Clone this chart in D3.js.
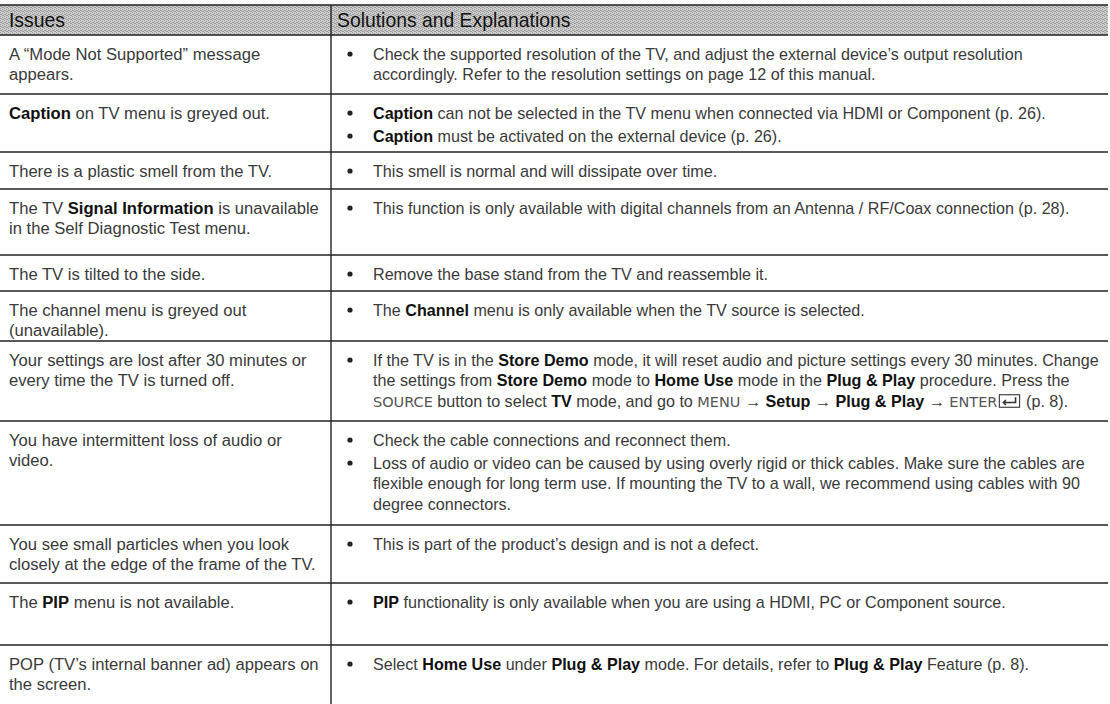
<!DOCTYPE html>
<html><head><meta charset="utf-8">
<script src="https://cdn.jsdelivr.net/npm/d3@7"></script>
<style>body{margin:0;background:#fff}svg{display:block}text{white-space:pre}</style>
</head><body><svg id="c" width="1110" height="704"></svg>
<script>
// ---------- data ----------
const headers = ["Issues", "Solutions and Explanations"];

const issues = [
  ["A \u201cMode Not Supported\u201d message", "appears."],
  ["**Caption** on TV menu is greyed out."],
  ["There is a plastic smell from the TV."],
  ["The TV **Signal Information** is unavailable", "in the Self Diagnostic Test menu."],
  ["The TV is tilted to the side."],
  ["The channel menu is greyed out", "(unavailable)."],
  ["Your settings are lost after 30 minutes or", "every time the TV is turned off."],
  ["You have intermittent loss of audio or", "video."],
  ["You see small particles when you look", "closely at the edge of the frame of the TV."],
  ["The **PIP** menu is not available."],
  ["POP (TV\u2019s internal banner ad) appears on", "the screen."]
];

const solutions = [
  [["Check the supported resolution of the TV, and adjust the external device\u2019s output resolution",
    "accordingly. Refer to the resolution settings on page 12 of this manual."]],
  [["**Caption** can not be selected in the TV menu when connected via HDMI or Component (p. 26)."],
   ["**Caption** must be activated on the external device (p. 26)."]],
  [["This smell is normal and will dissipate over time."]],
  [["This function is only available with digital channels from an Antenna / RF/Coax connection (p. 28)."]],
  [["Remove the base stand from the TV and reassemble it."]],
  [["The **Channel** menu is only available when the TV source is selected."]],
  [["If the TV is in the **Store Demo** mode, it will reset audio and picture settings every 30 minutes. Change",
    "the settings from **Store Demo** mode to **Home Use** mode in the **Plug & Play** procedure. Press the",
    "{SOURCE} button to select **TV** mode, and go to {MENU} \u2192 **Setup** \u2192 **Plug & Play** \u2192 {ENTER}@ (p. 8)."]],
  [["Check the cable connections and reconnect them."],
   ["Loss of audio or video can be caused by using overly rigid or thick cables. Make sure the cables are",
    "flexible enough for long term use. If mounting the TV to a wall, we recommend using cables with 90",
    "degree connectors."]],
  [["This is part of the product\u2019s design and is not a defect."]],
  [["**PIP** functionality is only available when you are using a HDMI, PC or Component source."]],
  [["Select **Home Use** under **Plug & Play** mode. For details, refer to **Plug & Play** Feature (p. 8)."]]
];

// ---------- layout ----------
const W = 1110, H = 704;
const rowEdges = [5, 35, 94, 152, 189, 255, 291, 341, 421, 525, 583, 645, 712];
const X = {issue: 9, div: 331, bullet: 350, sol: 373, right: 1108, head2: 337};
const FONT = "'Liberation Sans', Arial, Helvetica, sans-serif";
const KEYFONT = "'DejaVu Sans', sans-serif";
const firstOff = 19, lineH = 20.5, itemGap = 2.5;
const FIT_WIDTH = 712;   // width of the longest plain explanation line

const svg = d3.select("#c");

// fit font size on the longest plain line of the explanations
const probe = svg.append("text").attr("font-family", FONT).attr("font-weight", 400)
  .attr("font-size", 100).text(solutions[7][1][0]);
const fs = 100 * FIT_WIDTH / probe.node().getComputedTextLength();
probe.remove();
const fsIssue = fs * 1.03;

// header background (dithered grey)
const defs = svg.append("defs");
const pat = defs.append("pattern").attr("id", "dither").attr("patternUnits", "userSpaceOnUse")
  .attr("width", 4).attr("height", 4);
pat.append("rect").attr("width", 4).attr("height", 4).attr("fill", "#cdcdcd");
[[0,0],[2,1],[1,2],[3,3],[2,3],[0,2]].forEach(([a,b]) =>
  pat.append("rect").attr("x", a).attr("y", b).attr("width", 1).attr("height", 1).attr("fill", "#9c9c9c"));

svg.append("rect").attr("x", 0).attr("y", rowEdges[0]).attr("width", X.right)
  .attr("height", rowEdges[1] - rowEdges[0]).attr("fill", "url(#dither)");

// header texts
svg.selectAll("text.head").data(headers).join("text").attr("class", "head")
  .attr("x", (d, i) => i ? X.head2 : X.issue)
  .attr("y", (rowEdges[0] + rowEdges[1]) / 2 + 6.5)
  .attr("font-family", FONT).attr("font-weight", 400).attr("font-size", fs * 1.2)
  .attr("fill", "#111").text(d => d);

// rules
const hl = svg.append("g").attr("stroke", "#222").attr("stroke-width", 1.4);
hl.selectAll("line").data(rowEdges.slice(0, -1)).join("line")
  .attr("x1", 0).attr("x2", X.right).attr("y1", d => d).attr("y2", d => d);
svg.append("line").attr("x1", X.div).attr("x2", X.div).attr("y1", rowEdges[0]).attr("y2", H)
  .attr("stroke", "#222").attr("stroke-width", 1.4);

// rich text
function parse(s) {
  return s.split(/(\*\*.+?\*\*|\{.+?\}|@)/).filter(t => t).map(t => {
    if (t.startsWith("**")) return {t: t.slice(2, -2), k: "b"};
    if (t.startsWith("{")) return {t: t.slice(1, -1), k: "key"};
    if (t === "@") return {t: "\u2003\u2002", k: "icon"};
    return {t, k: "n"};
  });
}
function drawLine(g, str, x, yc, size) {
  const segs = parse(str);
  const t = g.append("text").attr("x", x).attr("y", yc + size * 0.36)
    .attr("font-family", FONT).attr("font-size", size).attr("font-weight", 400).attr("fill", "#3a3a3a");
  let idx = 0; const icons = [];
  segs.forEach(s => {
    const sp = t.append("tspan").text(s.t);
    if (s.k === "b") sp.attr("font-weight", 700).attr("fill", "#111");
    if (s.k === "key") sp.attr("font-family", KEYFONT).attr("fill", "#555")
      .attr("font-size", size * 0.9);
    if (s.k === "icon") icons.push([idx, s.t.length]);
    idx += s.t.length;
  });
  icons.forEach(([i, n]) => {
    const n0 = t.node();
    const x0 = n0.getStartPositionOfChar(i).x + 2;
    const x1 = n0.getEndPositionOfChar(i + n - 1).x - 2;
    const h = size * 0.78, top = yc - h / 2;
    g.append("rect").attr("x", x0).attr("y", top).attr("width", x1 - x0).attr("height", h)
      .attr("fill", "none").attr("stroke", "#444").attr("stroke-width", 1.2);
    const cx = x1 - 4, mid = top + h * 0.62;
    g.append("path").attr("d", `M${cx},${top + 2.5} V${mid} H${x0 + 4} M${x0 + 6.5},${mid - 2.5} L${x0 + 4},${mid} L${x0 + 6.5},${mid + 2.5}`)
      .attr("fill", "none").attr("stroke", "#333").attr("stroke-width", 1.6);
  });
}

const body = svg.append("g");
issues.forEach((lines, r) => {
  const top = rowEdges[r + 1];
  const g = body.append("g");
  lines.forEach((l, j) => drawLine(g, l, X.issue, top + firstOff + j * lineH, fsIssue));
});
solutions.forEach((items, r) => {
  const top = rowEdges[r + 1];
  const g = body.append("g");
  let k = 0;
  items.forEach((item, ii) => {
    const yc = top + firstOff + k * lineH + ii * itemGap;
    g.append("circle").attr("cx", X.bullet).attr("cy", yc).attr("r", 2.6).attr("fill", "#222");
    item.forEach((l, j) => drawLine(g, l, X.sol, top + firstOff + (k + j) * lineH + ii * itemGap, fs));
    k += item.length;
  });
});
</script></body></html>
